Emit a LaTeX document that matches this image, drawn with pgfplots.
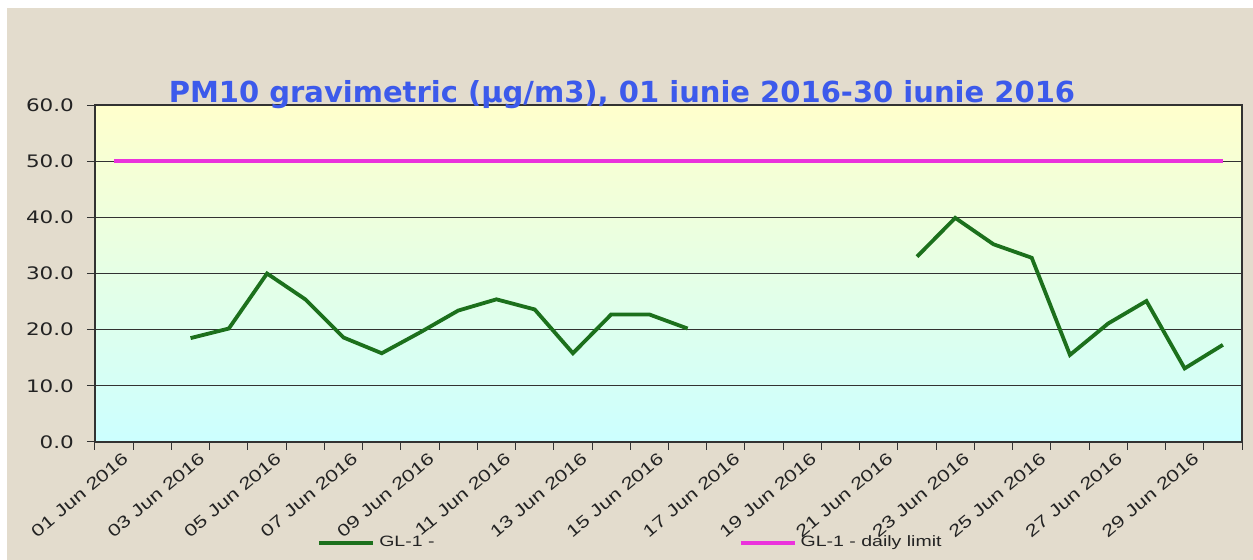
\documentclass[border=0pt]{standalone}
\usepackage{pgfplots}
\pgfplotsset{compat=1.18}
\usepackage{fontspec}
\setmainfont{Liberation Sans}
\newfontfamily\tickfont[FakeStretch=1.3]{Liberation Sans}
\newfontfamily\yfont[FakeStretch=1.25]{DejaVu Sans}
\newfontfamily\titlefont{DejaVu Sans}
\definecolor{bgbeige}{RGB}{227,220,205}
\definecolor{titleblue}{RGB}{60,90,235}
\definecolor{pmgreen}{RGB}{28,112,28}
\definecolor{limitmag}{RGB}{235,50,220}
\definecolor{topyellow}{RGB}{255,255,204}
\definecolor{botcyan}{RGB}{204,255,255}
\definecolor{gridgray}{RGB}{50,50,50}
\definecolor{labelgray}{RGB}{35,35,35}

\pgfplotstableread{
day pm
1 nan
2 nan
3 18.5
4 20.2
5 30.0
6 25.4
7 18.6
8 15.8
9 19.5
10 23.4
11 25.4
12 23.6
13 15.8
14 22.7
15 22.7
16 20.2
17 nan
18 nan
19 nan
20 nan
21 nan
22 33.0
23 39.9
24 35.2
25 32.8
26 15.5
27 21.1
28 25.1
29 13.1
30 17.3
}\pmdata

\pgfplotstableread{
day lim
1 50
2 50
3 50
4 50
5 50
6 50
7 50
8 50
9 50
10 50
11 50
12 50
13 50
14 50
15 50
16 50
17 50
18 50
19 50
20 50
21 50
22 50
23 50
24 50
25 50
26 50
27 50
28 50
29 50
30 50
}\limdata

\begin{document}
\begin{tikzpicture}
\useasboundingbox (-47.5pt,-59pt) rectangle (579pt,221pt);
\fill[white] (-47.5pt,-59pt) rectangle (579pt,221pt);
\fill[bgbeige] (-44pt,-59pt) rectangle (579pt,217pt);
\begin{axis}[
  at={(0pt,0pt)}, anchor=south west,
  scale only axis, width=573.5pt, height=168.5pt,
  xmin=0.5, xmax=30.5, ymin=0, ymax=60,
  axis background/.style={top color=topyellow, bottom color=botcyan},
  axis line style={gridgray, line width=0.6pt},
  ytick={0,10,...,60},
  yticklabels={0.0,10.0,20.0,30.0,40.0,50.0,60.0},
  yticklabel style={font=\yfont\fontsize{8.6}{10}\selectfont, text=labelgray, xshift=-3pt},
  ymajorgrids, major grid style={gridgray, line width=0.55pt},
  ytick pos=left, xtick pos=bottom,
  tick align=outside,
  major tick length=4pt,
  tick style={gridgray, line width=0.5pt},
  xtick={0.5,1.5,...,30.5},
  xticklabels={},
  extra x ticks={1,3,...,29},
  extra x tick labels={01 Jun 2016,03 Jun 2016,05 Jun 2016,07 Jun 2016,09 Jun 2016,11 Jun 2016,13 Jun 2016,15 Jun 2016,17 Jun 2016,19 Jun 2016,21 Jun 2016,23 Jun 2016,25 Jun 2016,27 Jun 2016,29 Jun 2016},
  extra x tick style={major tick length=0pt, grid=none,
    tick label style={font=\tickfont\fontsize{8.4}{9}\selectfont, text=labelgray, rotate=40, anchor=north east, inner sep=1pt, yshift=-5pt, xshift=1pt}},
  title={PM10 gravimetric (µg/m3), 01 iunie 2016-30 iunie 2016},
  title style={at={(0.4594,1)}, anchor=base, yshift=-4.5pt, font=\titlefont\bfseries\fontsize{14.5}{16}\selectfont, text=titleblue},
  unbounded coords=jump,
  legend style={at={(0.1936,-0.2997)}, anchor=west, draw=none, fill=none,
    font=\tickfont\fontsize{7.5}{9}\selectfont, text=labelgray, inner sep=0pt,
    /tikz/every even column/.style={column sep=150pt}},
  legend columns=2,
  legend image code/.code={\draw[#1] (0pt,0pt) -- (27pt,0pt);},
]
\addplot[pmgreen, line width=1.9pt, no markers] table[x=day, y=pm] {\pmdata};
\addlegendentry{GL-1 -}
\addplot[limitmag, line width=2.1pt, no markers] table[x=day, y=lim] {\limdata};
\addlegendentry{GL-1 - daily limit}
\end{axis}
\end{tikzpicture}
\end{document}
